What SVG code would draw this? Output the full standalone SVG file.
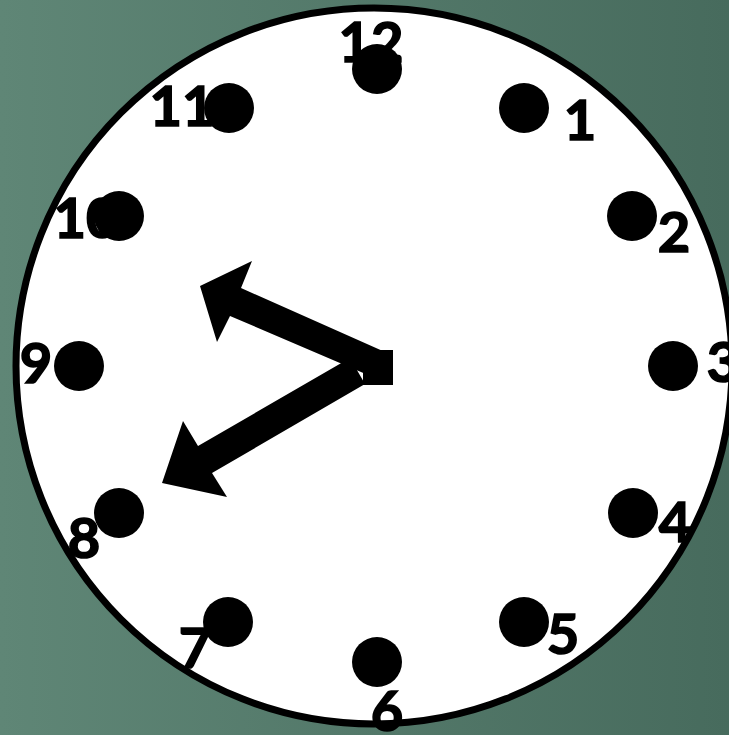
<svg xmlns="http://www.w3.org/2000/svg" width="729" height="735" viewBox="0 0 729 735">
<defs>
<linearGradient id="bg" x1="0" y1="0" x2="1" y2="0">
<stop offset="0" stop-color="#5f8676"/>
<stop offset="1" stop-color="#476b5d"/>
</linearGradient>
<style>
.lbl{font-family:Lato,"Liberation Sans",sans-serif;font-weight:700;font-size:56px;fill:#000;stroke:#000;stroke-width:1.6px;text-anchor:middle}
.dot{fill:#000}
</style>
</defs>
<rect width="729" height="735" fill="url(#bg)"/>
<g id="face"><circle cx="374" cy="366" r="358" fill="#fff" stroke="#000" stroke-width="7"/></g>
<g id="labels">
<text class="lbl" x="371" y="62">12</text>
<text class="lbl" x="580" y="140">1</text>
<text class="lbl" x="674" y="252">2</text>
<text class="lbl" x="723" y="382">3</text>
<text class="lbl" x="675" y="542">4</text>
<text class="lbl" x="563" y="654">5</text>
<text class="lbl" x="387" y="731">6</text>
<text class="lbl" x="195" y="668">7</text>
<text class="lbl" x="84" y="558">8</text>
<text class="lbl" x="36" y="383">9</text>
<text class="lbl" x="86" y="238">10</text>
<text class="lbl" x="182" y="126">11</text>
</g>
<g id="dots">
<circle class="dot" cx="377" cy="69" r="25"/>
<circle class="dot" cx="524" cy="108" r="25"/>
<circle class="dot" cx="632" cy="216" r="25"/>
<circle class="dot" cx="673" cy="366" r="25"/>
<circle class="dot" cx="633" cy="513" r="25"/>
<circle class="dot" cx="524" cy="622" r="25"/>
<circle class="dot" cx="377" cy="662" r="25"/>
<circle class="dot" cx="228" cy="622" r="25"/>
<circle class="dot" cx="119" cy="513" r="25"/>
<circle class="dot" cx="79" cy="366" r="25"/>
<circle class="dot" cx="119" cy="216" r="25"/>
<circle class="dot" cx="229" cy="108" r="25"/>
</g>
<g id="hands">
<polygon points="200,286 252,261 241,288 385,352 375,378 230,316 217,342" fill="#000"/>
<polygon points="162,483 183,421 198,446 350,358 365,384 212,473 227,497" fill="#000"/>
<rect x="363" y="350" width="30" height="35" fill="#000"/>
</g>
</svg>
